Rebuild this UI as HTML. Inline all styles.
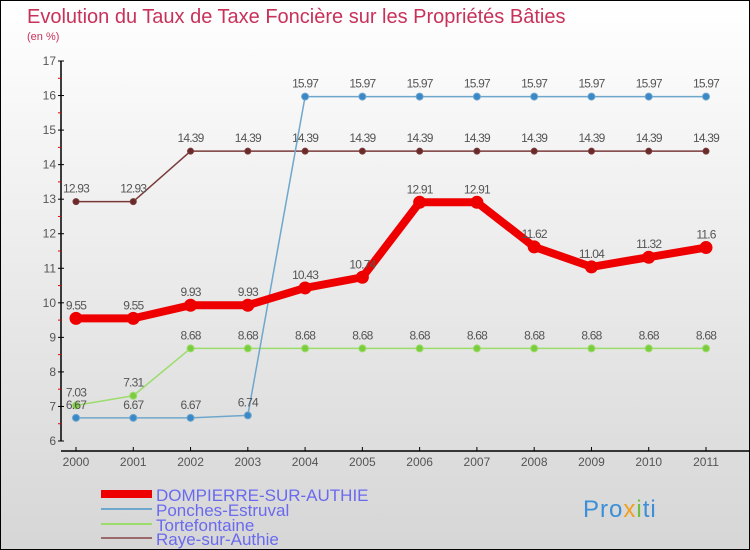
<!DOCTYPE html>
<html><head><meta charset="utf-8"><style>
body{margin:0}
#c{width:748px;height:548px;border:1px solid #000;background:linear-gradient(#ffffff,#d6d6d6);position:relative;font-family:"Liberation Sans",sans-serif;overflow:hidden}
</style></head><body>
<div id="c">
<svg width="748" height="548">
<text x="26" y="22" font-size="20" fill="#c8325a">Evolution du Taux de Taxe Foncière sur les Propriétés Bâties</text>
<text x="26" y="39" font-size="11" fill="#c8325a">(en %)</text>
<g id="axes"></g><g id="series"></g>
<g>
<rect x="100" y="489" width="51" height="8" fill="#e00"/>
<text x="155" y="500" font-size="17" fill="#6a6aee">DOMPIERRE-SUR-AUTHIE</text>
<line x1="100" y1="508" x2="151" y2="508" stroke="#6fa7cc" stroke-width="2"/>
<text x="155" y="515" font-size="17" fill="#6a6aee">Ponches-Estruval</text>
<line x1="100" y1="523" x2="151" y2="523" stroke="#9bdc6a" stroke-width="2"/>
<text x="155" y="530" font-size="17" fill="#6a6aee">Tortefontaine</text>
<line x1="100" y1="537" x2="151" y2="537" stroke="#9b6a6a" stroke-width="2"/>
<text x="155" y="544" font-size="17" fill="#6a6aee">Raye-sur-Authie</text>
</g>
<g><text x="582" y="516" font-size="24" fill="#3a8fd8" letter-spacing="1">Pro<tspan fill="#f0a020">x</tspan><tspan fill="#70c040">i</tspan>ti</text></g>
</svg></div>
<script>
const years=["2000","2001","2002","2003","2004","2005","2006","2007","2008","2009","2010","2011"];
const yTicks=[6,7,8,9,10,11,12,13,14,15,16,17];
const dompierre=[9.55,9.55,9.93,9.93,10.43,10.74,12.91,12.91,11.62,11.04,11.32,11.6];
const ponches=[6.67,6.67,6.67,6.74,15.97,15.97,15.97,15.97,15.97,15.97,15.97,15.97];
const tortefontaine=[7.03,7.31,8.68,8.68,8.68,8.68,8.68,8.68,8.68,8.68,8.68,8.68];
const raye=[12.93,12.93,14.39,14.39,14.39,14.39,14.39,14.39,14.39,14.39,14.39,14.39];
const NS="http://www.w3.org/2000/svg";
const xS=i=>75+i*(630/11);
const yS=v=>440-(v-6)*(380/11);
function mk(t,a,p){const e=document.createElementNS(NS,t);for(const k in a)e.setAttribute(k,a[k]);p.appendChild(e);return e;}
const ax=document.getElementById('axes');
let e=mk('line',{x1:60,y1:yS(17),x2:60,y2:yS(6),stroke:'#000','stroke-width':1.5},ax);


e=mk('line',{x1:60,y1:450,x2:748,y2:450,stroke:'#000','stroke-width':1.5},ax);


yTicks.forEach((v,i)=>{
 let t=mk('line',{x1:57,y1:yS(v),x2:63,y2:yS(v),stroke:'#000'},ax);
 
 
 let l=mk('text',{x:55,y:yS(v)+4,'font-size':12,fill:'#555','text-anchor':'end'},ax);l.textContent=v;
 
 
 if(i<yTicks.length-1){let m=mk('line',{x1:57,y1:yS(v+0.5),x2:60,y2:yS(v+0.5),stroke:'#e00'},ax);
 
 }
});
years.forEach((y,i)=>{
 let t=mk('line',{x1:xS(i),y1:446,x2:xS(i),y2:450,stroke:'#000'},ax);
 
 
 let l=mk('text',{x:xS(i),y:465,'font-size':12,fill:'#555','text-anchor':'middle'},ax);l.textContent=y;
 
 
});
const sg=document.getElementById('series');
function series(vals,color,w,r,dot,name){
 const g=mk('g',{},sg);
 
 
 const p=mk('polyline',{points:vals.map((v,i)=>xS(i)+','+yS(v)).join(' '),fill:'none',stroke:color,'stroke-width':w,'stroke-linejoin':'round'},g);
 
 
 vals.forEach((v,i)=>{
  const c=mk('circle',{cx:xS(i),cy:yS(v),r:r,fill:dot,stroke:color,'stroke-width':1},g);
  
  
  const t=mk('text',{x:xS(i),y:yS(v)-9,'font-size':12,fill:'#555','text-anchor':'middle','letter-spacing':'-0.8'},g);
  t.textContent=String(v);
  
  
 });
}
series(raye,'#7a3a3a',1.5,3,'#6a2a2a','raye');
series(tortefontaine,'#9bdc6a',1.5,3.5,'#7ccc40','tortefontaine');
series(ponches,'#6fa7cc',1.5,3.5,'#3a88c8','ponches');
series(dompierre,'#ee0000',8,6,'#ee0000','dompierre');
</script>
</body></html>
